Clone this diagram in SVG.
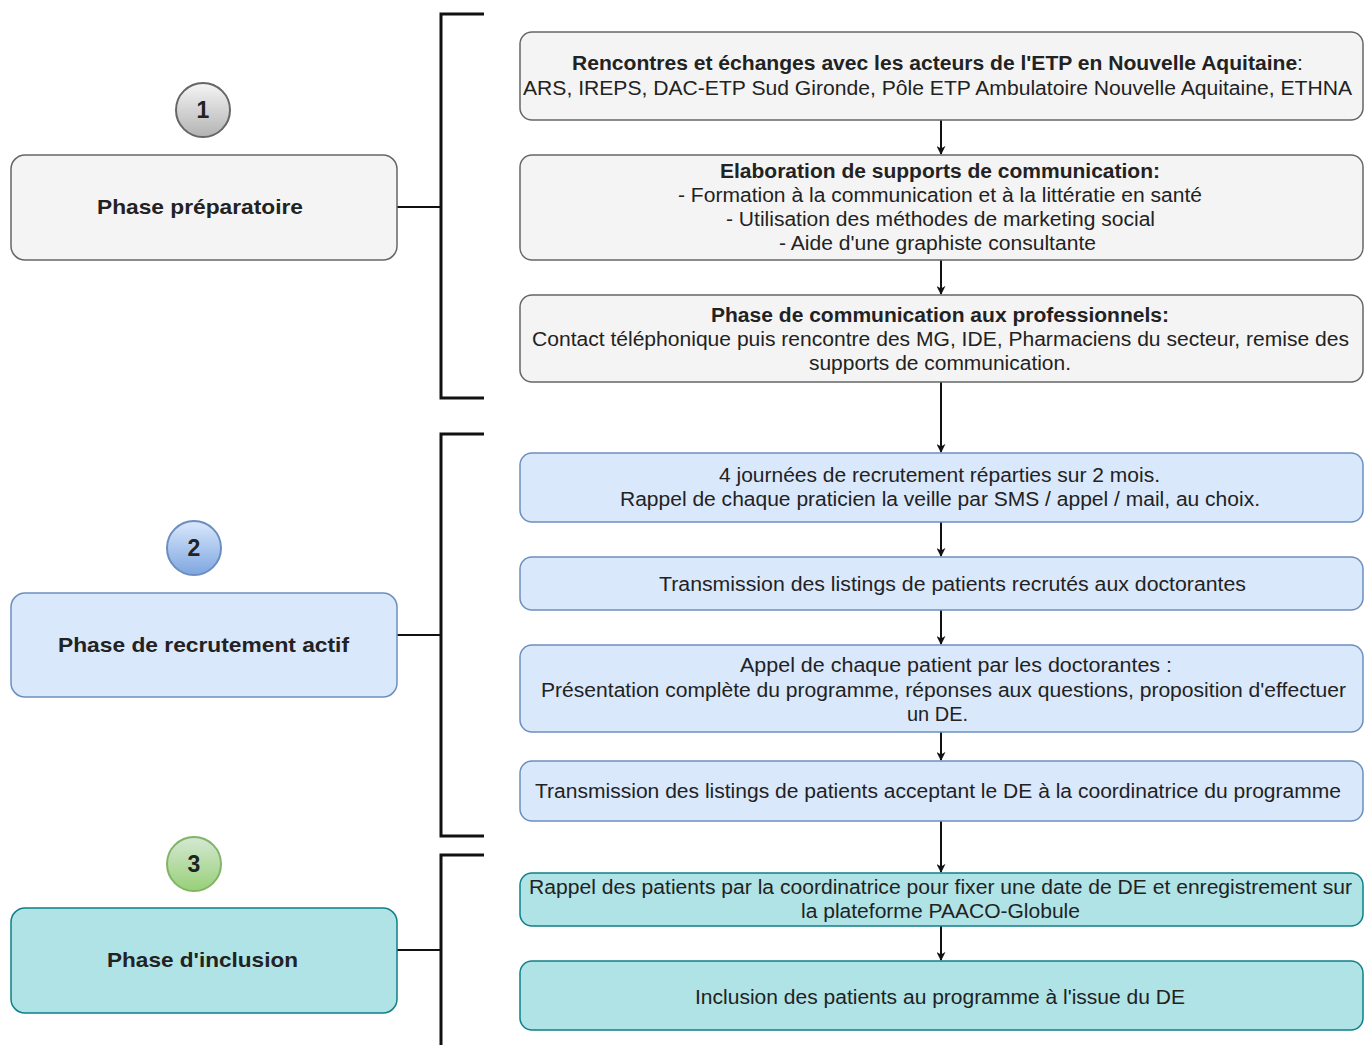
<svg xmlns="http://www.w3.org/2000/svg" width="1372" height="1045" viewBox="0 0 1372 1045">
<style>
text{font-family:"Liberation Sans",Arial,sans-serif;font-size:20px;fill:#222;text-anchor:middle;lengthAdjust:spacingAndGlyphs}
.b{font-weight:bold}
.big{font-weight:bold;font-size:23px}
.ph{font-weight:bold;font-size:21px}
.grey{fill:#f4f4f4;stroke:#666;stroke-width:1.5}
.blue{fill:#dae8fc;stroke:#6c8ebf;stroke-width:1.5}
.teal{fill:#b0e3e6;stroke:#0e8088;stroke-width:1.5}
.br{fill:none;stroke:#111;stroke-width:3}
.ln{fill:none;stroke:#111;stroke-width:2}
.ar{fill:none;stroke:#111;stroke-width:2;marker-end:url(#ah)}
</style>
<defs>
<marker id="ah" viewBox="0 0 10 10" refX="9" refY="5" markerWidth="9" markerHeight="9" markerUnits="userSpaceOnUse" orient="auto"><path d="M0,0 L10,5 L0,10 L3,5 z" fill="#111"/></marker>
<linearGradient id="gg" x1="0" y1="0" x2="0" y2="1"><stop offset="0" stop-color="#f5f5f5"/><stop offset="1" stop-color="#b3b3b3"/></linearGradient>
<linearGradient id="gb" x1="0" y1="0" x2="0" y2="1"><stop offset="0" stop-color="#dae8fc"/><stop offset="1" stop-color="#7ea6e0"/></linearGradient>
<linearGradient id="gn" x1="0" y1="0" x2="0" y2="1"><stop offset="0" stop-color="#d5e8d4"/><stop offset="1" stop-color="#97d077"/></linearGradient>
</defs>
<rect width="1372" height="1045" fill="#fff"/>

<g id="connectors">
<path class="br" d="M484,14 H441 V398 H484"/>
<path class="br" d="M484,434 H441 V836 H484"/>
<path class="br" d="M484,855 H441 V1045"/>
<path class="ln" d="M397,207 H441"/>
<path class="ln" d="M397,635 H441"/>
<path class="ln" d="M397,950 H441"/>
<path class="ar" d="M941,120 V154"/>
<path class="ar" d="M941,260 V294"/>
<path class="ar" d="M941,382 V452"/>
<path class="ar" d="M941,522 V556"/>
<path class="ar" d="M941,610 V644"/>
<path class="ar" d="M941,732 V760"/>
<path class="ar" d="M941,821 V872"/>
<path class="ar" d="M941,926 V960"/>
</g>

<g id="c1"><circle cx="203" cy="110" r="27" fill="url(#gg)" stroke="#666" stroke-width="2"/><text class="big" x="203" y="118">1</text></g>
<g id="c2"><circle cx="194" cy="548" r="27" fill="url(#gb)" stroke="#6c8ebf" stroke-width="2"/><text class="big" x="194" y="556">2</text></g>
<g id="c3"><circle cx="194" cy="864" r="27" fill="url(#gn)" stroke="#82b366" stroke-width="2"/><text class="big" x="194" y="872">3</text></g>

<g id="p1"><rect class="grey" x="11" y="155" width="386" height="105" rx="14"/><text class="ph" x="200" y="214" textLength="206" lengthAdjust="spacingAndGlyphs">Phase préparatoire</text></g>
<g id="p2"><rect class="blue" x="11" y="593" width="386" height="104" rx="14"/><text class="ph" x="203.5" y="652" textLength="291" lengthAdjust="spacingAndGlyphs">Phase de recrutement actif</text></g>
<g id="p3"><rect class="teal" x="11" y="908" width="386" height="105" rx="14"/><text class="ph" x="202.5" y="967" textLength="191" lengthAdjust="spacingAndGlyphs">Phase d'inclusion</text></g>

<g id="n1"><rect class="grey" x="520" y="32" width="843" height="88" rx="12"/>
<text x="937.5" y="70" textLength="731" lengthAdjust="spacingAndGlyphs"><tspan class="b">Rencontres et échanges avec les acteurs de l'ETP en Nouvelle Aquitaine</tspan>:</text>
<text x="937.5" y="95" textLength="829" lengthAdjust="spacingAndGlyphs">ARS, IREPS, DAC-ETP Sud Gironde, Pôle ETP Ambulatoire Nouvelle Aquitaine, ETHNA</text></g>

<g id="n2"><rect class="grey" x="520" y="155" width="843" height="105" rx="12"/>
<text class="b" x="940" y="178" textLength="440" lengthAdjust="spacingAndGlyphs">Elaboration de supports de communication:</text>
<text x="940" y="202" textLength="524" lengthAdjust="spacingAndGlyphs">- Formation à la communication et à la littératie en santé</text>
<text x="940.5" y="226" textLength="429" lengthAdjust="spacingAndGlyphs">- Utilisation des méthodes de marketing social</text>
<text x="937.5" y="250" textLength="317" lengthAdjust="spacingAndGlyphs">- Aide d'une graphiste consultante</text></g>

<g id="n3"><rect class="grey" x="520" y="295" width="843" height="87" rx="12"/>
<text class="b" x="940" y="322" textLength="458" lengthAdjust="spacingAndGlyphs">Phase de communication aux professionnels:</text>
<text x="940.5" y="346" textLength="817" lengthAdjust="spacingAndGlyphs">Contact téléphonique puis rencontre des MG, IDE, Pharmaciens du secteur, remise des</text>
<text x="940" y="370" textLength="262" lengthAdjust="spacingAndGlyphs">supports de communication.</text></g>

<g id="n4"><rect class="blue" x="520" y="453" width="843" height="69" rx="12"/>
<text x="939.5" y="482" textLength="441" lengthAdjust="spacingAndGlyphs">4 journées de recrutement réparties sur 2 mois.</text>
<text x="940" y="506" textLength="640" lengthAdjust="spacingAndGlyphs">Rappel de chaque praticien la veille par SMS / appel / mail, au choix.</text></g>

<g id="n5"><rect class="blue" x="520" y="557" width="843" height="53" rx="12"/>
<text x="952.5" y="591" textLength="587" lengthAdjust="spacingAndGlyphs">Transmission des listings de patients recrutés aux doctorantes</text></g>

<g id="n6"><rect class="blue" x="520" y="645" width="843" height="87" rx="12"/>
<text x="956" y="672" textLength="432" lengthAdjust="spacingAndGlyphs">Appel de chaque patient par les doctorantes :</text>
<text x="943.5" y="697" textLength="805" lengthAdjust="spacingAndGlyphs">Présentation complète du programme, réponses aux questions, proposition d'effectuer</text>
<text x="937.5" y="721" textLength="61" lengthAdjust="spacingAndGlyphs">un DE.</text></g>

<g id="n7"><rect class="blue" x="520" y="761" width="843" height="60" rx="12"/>
<text x="938" y="798" textLength="806" lengthAdjust="spacingAndGlyphs">Transmission des listings de patients acceptant le DE à la coordinatrice du programme</text></g>

<g id="n8"><rect class="teal" x="520" y="873" width="843" height="53" rx="12"/>
<text x="940.5" y="894" textLength="823" lengthAdjust="spacingAndGlyphs">Rappel des patients par la coordinatrice pour fixer une date de DE et enregistrement sur</text>
<text x="940.5" y="918" textLength="279" lengthAdjust="spacingAndGlyphs">la plateforme PAACO-Globule</text></g>

<g id="n9"><rect class="teal" x="520" y="961" width="843" height="69" rx="12"/>
<text x="940" y="1004" textLength="490" lengthAdjust="spacingAndGlyphs">Inclusion des patients au programme à l'issue du DE</text></g>
</svg>
